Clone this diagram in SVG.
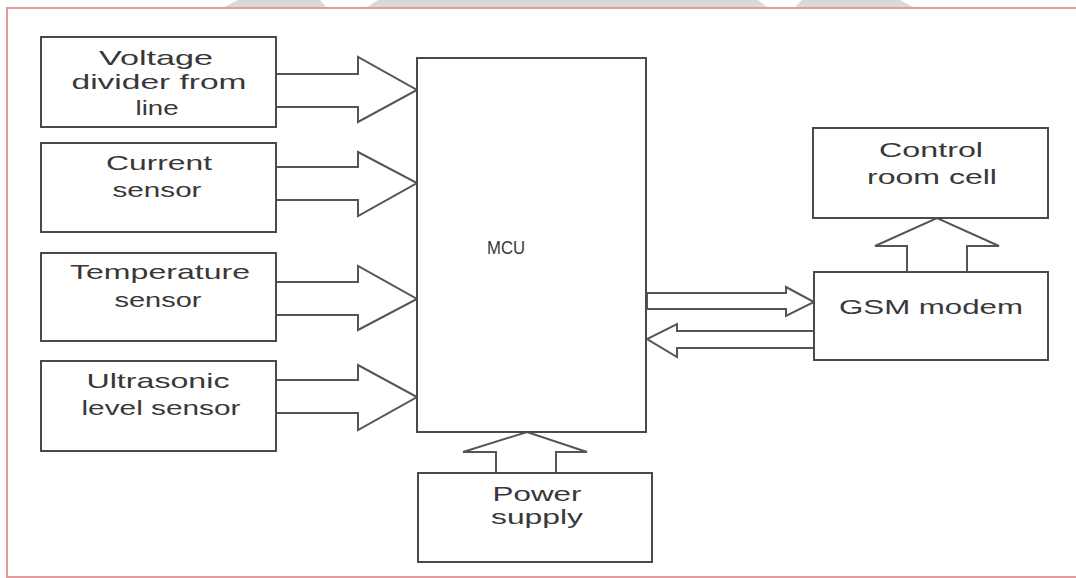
<svg xmlns="http://www.w3.org/2000/svg" width="1076" height="578" viewBox="0 0 1076 578">
<style>
.box{fill:#fff;stroke:#4a4a4a;stroke-width:2}
.arr{fill:#fff;stroke:#555;stroke-width:2;stroke-linejoin:miter}
.lbl{font-family:"Liberation Sans",Arial,sans-serif;font-size:21px;fill:#383838;text-anchor:middle}
.border{stroke:#e39a9a;stroke-width:2;fill:none}
.wm{fill:#d9d9d9}
</style>
<rect x="0" y="0" width="1076" height="578" fill="#fff"/>
<g id="watermark">
<polygon class="wm" points="224,7 238,0 320,0 326,7"/>
<polygon class="wm" points="367,7 378,0 758,0 767,7"/>
<polygon class="wm" points="795,7 802,0 900,0 913,7"/>
</g>
<g id="frame">
<path class="border" d="M1076,8 H7 V577 H1076"/>
</g>
<g id="connectors">
<polygon class="arr" points="276,74 358,74 358,57 417,90 358,122 358,107 276,107"/>
<polygon class="arr" points="276,167 358,167 358,152 417,183 358,216 358,200 276,200"/>
<polygon class="arr" points="276,282 358,282 358,266 417,299 358,330 358,315 276,315"/>
<polygon class="arr" points="276,380 358,380 358,365 417,397 358,430 358,413 276,413"/>
<polygon class="arr" points="647,293 786,293 786,287 814,302 786,316 786,309 647,309"/>
<polygon class="arr" points="814,331 677,331 677,324 647,339 677,357 677,348 814,348"/>
<polygon class="arr" points="907,272 907,246 875,246 937,218 999,246 967,246 967,272"/>
<polygon class="arr" points="496,473 496,452 463,452 527,432 587,452 556,452 556,473"/>
</g>
<g id="voltage">
<rect class="box" x="41" y="37" width="235" height="90"/>
<text class="lbl" x="156" y="65" textLength="114" lengthAdjust="spacingAndGlyphs">Voltage</text>
<text class="lbl" x="159" y="89" textLength="175" lengthAdjust="spacingAndGlyphs">divider from</text>
<text class="lbl" x="157" y="115" textLength="43" lengthAdjust="spacingAndGlyphs">line</text>
</g>
<g id="current">
<rect class="box" x="41" y="143" width="235" height="89"/>
<text class="lbl" x="159" y="170" textLength="106" lengthAdjust="spacingAndGlyphs">Current</text>
<text class="lbl" x="157" y="197" textLength="89" lengthAdjust="spacingAndGlyphs">sensor</text>
</g>
<g id="temperature">
<rect class="box" x="41" y="253" width="235" height="88"/>
<text class="lbl" x="160" y="279" textLength="180" lengthAdjust="spacingAndGlyphs">Temperature</text>
<text class="lbl" x="158" y="307" textLength="87" lengthAdjust="spacingAndGlyphs">sensor</text>
</g>
<g id="ultrasonic">
<rect class="box" x="41" y="361" width="235" height="90"/>
<text class="lbl" x="158" y="388" textLength="143" lengthAdjust="spacingAndGlyphs">Ultrasonic</text>
<text class="lbl" x="161" y="415" textLength="159" lengthAdjust="spacingAndGlyphs">level sensor</text>
</g>
<g id="mcu">
<rect class="box" x="417" y="58" width="229" height="374"/>
<text class="lbl" x="506" y="254" textLength="38" lengthAdjust="spacingAndGlyphs" style="font-size:19px">MCU</text>
</g>
<g id="power">
<rect class="box" x="418" y="473" width="234" height="89"/>
<text class="lbl" x="537" y="501" textLength="89" lengthAdjust="spacingAndGlyphs">Power</text>
<text class="lbl" x="537" y="524" textLength="92" lengthAdjust="spacingAndGlyphs">supply</text>
</g>
<g id="gsm">
<rect class="box" x="814" y="272" width="234" height="88"/>
<text class="lbl" x="931" y="314" textLength="184" lengthAdjust="spacingAndGlyphs">GSM modem</text>
</g>
<g id="control">
<rect class="box" x="813" y="128" width="235" height="90"/>
<text class="lbl" x="931" y="157" textLength="104" lengthAdjust="spacingAndGlyphs">Control</text>
<text class="lbl" x="932" y="184" textLength="130" lengthAdjust="spacingAndGlyphs">room cell</text>
</g>
</svg>
